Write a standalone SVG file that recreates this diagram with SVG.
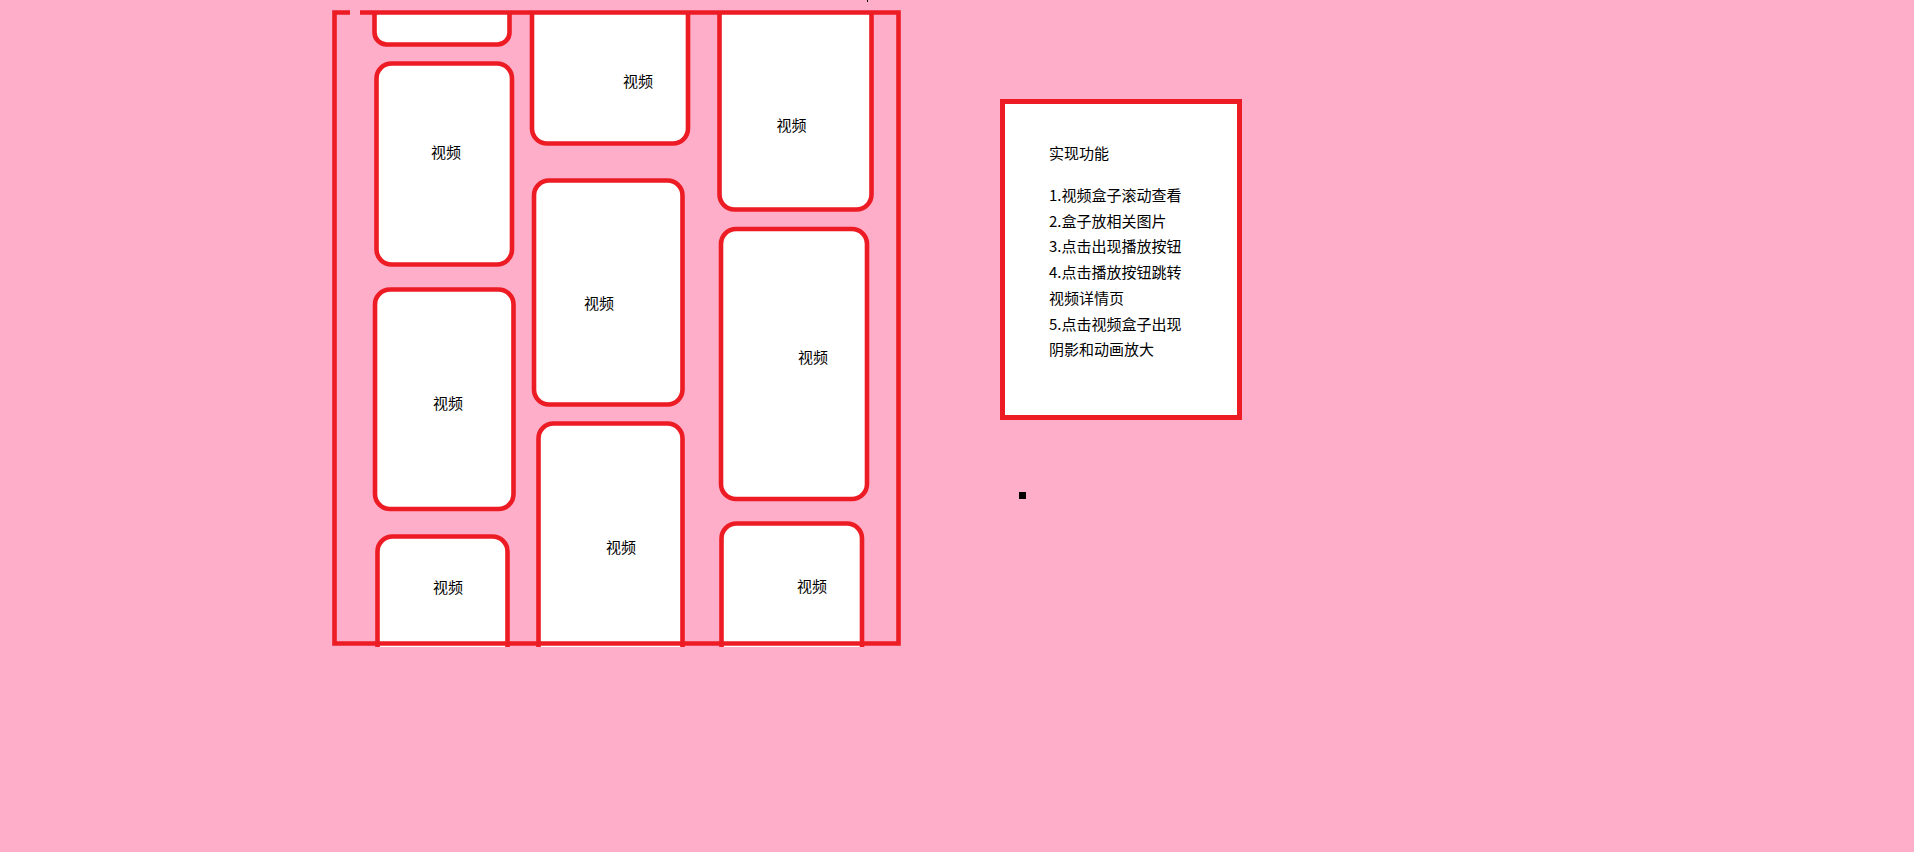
<svg xmlns="http://www.w3.org/2000/svg" width="1914" height="852" viewBox="0 0 1914 852">
<style>
.box{fill:#FFFFFF;stroke:#ED1C24;stroke-width:4.6;stroke-linejoin:round}
.frame{fill:none;stroke:#ED1C24;stroke-width:4.6;stroke-linejoin:miter}
.lbl{font-family:"Noto Sans CJK SC","Microsoft YaHei",sans-serif;font-size:15px;fill:#000000}
</style>
<rect x="0" y="0" width="1914" height="852" fill="#FFAEC9"/>
<g id="video-box-1"><path class="box" d="M374.5 11 V32.5 A12 12 0 0 0 386.5 44.5 H497.5 A12 12 0 0 0 509.5 32.5 V11"/></g>
<g id="video-box-2"><rect class="box" x="376.5" y="63.5" width="135.5" height="201" rx="15"/><text class="lbl" x="431" y="158">视频</text></g>
<g id="video-box-3"><path class="box" d="M532 11 V128.5 A15 15 0 0 0 547 143.5 H673 A15 15 0 0 0 688 128.5 V11"/><text class="lbl" x="623" y="87">视频</text></g>
<g id="video-box-4"><path class="box" d="M719.5 11 V194.5 A15 15 0 0 0 734.5 209.5 H856.5 A15 15 0 0 0 871.5 194.5 V11"/><text class="lbl" x="776.5" y="131">视频</text></g>
<g id="video-box-5"><rect class="box" x="534" y="180.5" width="148.5" height="224" rx="15"/><text class="lbl" x="584" y="309">视频</text></g>
<g id="video-box-6"><rect class="box" x="721" y="229" width="146" height="270" rx="15"/><text class="lbl" x="798" y="363">视频</text></g>
<g id="video-box-7"><rect class="box" x="375" y="289.5" width="138.5" height="219.5" rx="15"/><text class="lbl" x="433" y="409">视频</text></g>
<g id="video-box-8"><path class="box" d="M377.5 647 V551.5 A15 15 0 0 1 392.5 536.5 H492.5 A15 15 0 0 1 507.5 551.5 V647"/><text class="lbl" x="433" y="593">视频</text></g>
<g id="video-box-9"><path class="box" d="M538.5 647 V438.5 A15 15 0 0 1 553.5 423.5 H667.5 A15 15 0 0 1 682.5 438.5 V647"/><text class="lbl" x="606" y="553">视频</text></g>
<g id="video-box-10"><path class="box" d="M721.5 647 V538.5 A15 15 0 0 1 736.5 523.5 H847 A15 15 0 0 1 862 538.5 V647"/><text class="lbl" x="797" y="592">视频</text></g>
<g id="scroll-frame"><path class="frame" d="M350 12.5 H334.5 V643.5 H898.5 V12.5 H360"/></g>
<g id="features-note">
<rect x="1002.5" y="101.5" width="237" height="316" fill="#FFFFFF" stroke="#ED1C24" stroke-width="5"/>
<text class="lbl" x="1049" y="159">实现功能</text>
<text class="lbl" x="1049" y="201">1.视频盒子滚动查看</text>
<text class="lbl" x="1049" y="226.7">2.盒子放相关图片</text>
<text class="lbl" x="1049" y="252.4">3.点击出现播放按钮</text>
<text class="lbl" x="1049" y="278.1">4.点击播放按钮跳转</text>
<text class="lbl" x="1049" y="303.8">视频详情页</text>
<text class="lbl" x="1049" y="329.5">5.点击视频盒子出现</text>
<text class="lbl" x="1049" y="355.2">阴影和动画放大</text>
</g>
<rect x="1019" y="492" width="7" height="7" fill="#000000"/>
<rect x="867" y="0" width="1" height="2" fill="#000000"/>
</svg>
